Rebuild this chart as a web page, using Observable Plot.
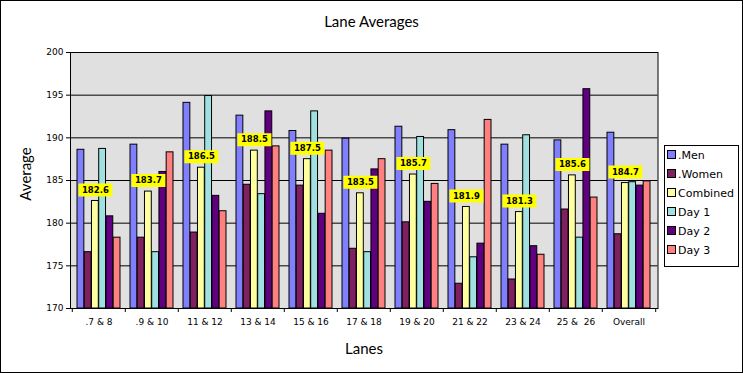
<!DOCTYPE html>
<html>
<head>
<meta charset="utf-8">
<script src="https://cdn.jsdelivr.net/npm/d3@7"></script>
<script src="https://cdn.jsdelivr.net/npm/@observablehq/plot@0.6"></script>
<style>
  html, body { margin: 0; padding: 0; background: #fff; }
  #wrap { position: relative; width: 743px; height: 373px; overflow: hidden; background: #fff; }
  #wrap svg { position: absolute; left: 0; top: 0; }
  .border { position: absolute; left: 0; top: 0; width: 743px; height: 373px; box-sizing: border-box; border: 1px solid #000; pointer-events: none; }
  .title { position: absolute; left: 0; width: 743px; top: 12px; text-align: center; font: 15px Lato, "Open Sans", sans-serif; color: #000; }
  .xlabel { position: absolute; left: 0; width: 728px; top: 339px; text-align: center; font: 15px Lato, "Open Sans", sans-serif; color: #000; }
  .ylabel { position: absolute; left: 25px; top: 174px; transform: translate(-50%, -50%) rotate(-90deg); font: 15px Lato, "Open Sans", sans-serif; color: #000; white-space: nowrap; }
  .legend { position: absolute; left: 664px; top: 145px; width: 75px; height: 122px; box-sizing: border-box; border: 1px solid #000; background: #fff; font: 11px "DejaVu Sans", sans-serif; color: #000; }
  .legend .item { position: absolute; left: 2px; height: 12px; line-height: 12px; white-space: nowrap; }
  .legend .sw { display: inline-block; width: 7px; height: 7px; border: 1px solid #000; box-sizing: content-box; margin-right: 2px; vertical-align: 0px; }
</style>
</head>
<body>
<div id="wrap">
  <div class="title">Lane Averages</div>
  <div class="xlabel">Lanes</div>
  <div class="ylabel">Average</div>
  <div class="legend" id="legend"></div>
  <div class="border"></div>
</div>
<script>
const lanes = [".7 & 8", ".9 & 10", "11 & 12", "13 & 14", "15 & 16", "17 & 18", "19 & 20", "21 & 22", "23 & 24", "25 &  26", "Overall"];
const seriesNames = [".Men", ".Women", "Combined", "Day 1", "Day 2", "Day 3"];
const men      = [188.6, 189.2, 194.1, 192.6, 190.8, 189.9, 191.3, 190.9, 189.2, 189.7, 190.6];
const women    = [176.6, 178.3, 178.9, 184.5, 184.4, 177.0, 180.1, 172.9, 173.4, 181.6, 178.7];
const combined = [182.6, 183.7, 186.5, 188.5, 187.5, 183.5, 185.7, 181.9, 181.3, 185.6, 184.7];
const day1     = [188.7, 176.6, 194.9, 183.4, 193.1, 176.6, 190.1, 176.0, 190.3, 178.3, 184.8];
const day2     = [180.8, 186.0, 183.2, 193.1, 181.1, 186.3, 182.5, 177.6, 177.3, 195.7, 184.4];
const day3     = [178.3, 188.3, 181.4, 189.0, 188.5, 187.5, 184.6, 192.1, 176.3, 183.0, 184.9];
const yTicks   = [170, 175, 180, 185, 190, 195, 200];
const colors   = ["#8080ff", "#802060", "#ffffa0", "#a0e0e0", "#600080", "#ff8080"];

const seriesValues = [men, women, combined, day1, day2, day3];
const rows = lanes.map((lane, i) => ({
  lane,
  men: men[i], women: women[i], combined: combined[i],
  day1: day1[i], day2: day2[i], day3: day3[i]
}));
const keys = ["men", "women", "combined", "day1", "day2", "day3"];

const W = 743, H = 373;
const mL = 70, mR = 85.5, mT = 52, mB = 65;
const band = (W - mL - mR) / lanes.length;
const gap = 5;
const barW = (band - 2 * gap) / keys.length;

const barMarks = keys.map((k, i) => Plot.barY(rows, {
  x: "lane", y1: 170, y2: k,
  fill: colors[i], stroke: "#000", strokeWidth: 1,
  insetLeft: gap + i * barW,
  insetRight: band - gap - (i + 1) * barW
}));

const labelDx = -band / 2 + gap + 2.5 * barW;
const boxSymbol = { draw(ctx) { ctx.rect(-17, -6.5, 34, 13); } };

const chart = Plot.plot({
  width: W, height: H,
  marginLeft: mL, marginRight: mR, marginTop: mT, marginBottom: mB,
  style: { fontFamily: "DejaVu Sans, sans-serif", fontSize: "9px", color: "#000", background: "transparent", overflow: "visible" },
  x: { type: "band", domain: lanes, padding: 0, tickSize: 0, tickPadding: 10, label: null },
  y: { domain: [170, 200], ticks: yTicks, tickSize: 4, tickPadding: 3, label: null },
  marks: [
    Plot.frame({ fill: "#e0e0e0", stroke: "none" }),
    Plot.ruleY(yTicks.slice(1, -1), { stroke: "#000", strokeWidth: 1 }),
    ...barMarks,
    Plot.ruleX(lanes, { x: d => d, y1: 170, y2: 170, dx: -band / 2, insetBottom: -4, stroke: "#000" }),
    Plot.ruleX(lanes.slice(-1), { x: d => d, y1: 170, y2: 170, dx: band / 2, insetBottom: -4, stroke: "#000" }),
    Plot.dot(rows, { x: "lane", y: "combined", dx: labelDx, dy: -11, symbol: boxSymbol, fill: "#ffff00", stroke: "none" }),
    Plot.text(rows, { x: "lane", y: "combined", dx: labelDx, dy: -11, text: d => d.combined.toFixed(1), fontWeight: "bold", fontSize: 8.5, fontFamily: "DejaVu Sans, sans-serif", fill: "#000" }),
    Plot.frame({ stroke: "#000", fill: "none" })
  ]
});
const wrap = document.getElementById("wrap");
wrap.insertBefore(chart, wrap.firstChild);

const legend = document.getElementById("legend");
seriesNames.forEach((name, i) => {
  const it = document.createElement("div");
  it.className = "item";
  it.style.top = (4 + i * 19) + "px";
  const sw = document.createElement("span");
  sw.className = "sw";
  sw.style.background = colors[i];
  it.appendChild(sw);
  it.appendChild(document.createTextNode(name));
  legend.appendChild(it);
});
</script>
</body>
</html>
